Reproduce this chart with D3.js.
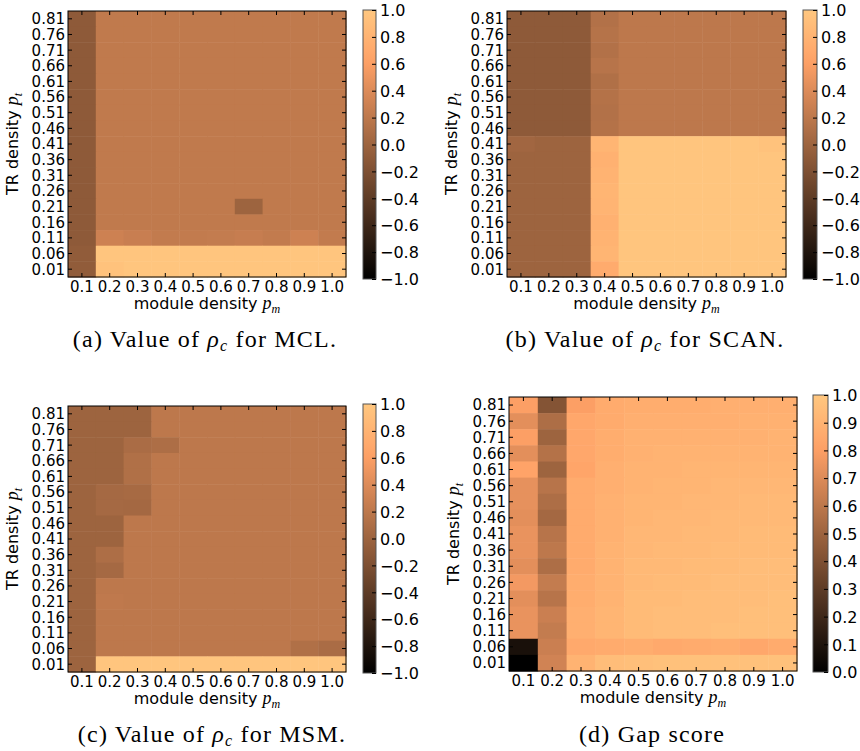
<!DOCTYPE html>
<html>
<head>
<meta charset="utf-8">
<script src="https://cdn.jsdelivr.net/npm/d3@7"></script>
<style>
  body { margin: 0; background: #fff; }
  svg text { font-family: "DejaVu Sans", sans-serif; }
  .cap { font-family: "Liberation Serif", serif; font-size: 24px; letter-spacing: 1.2px; }
</style>
</head>
<body>
<svg id="chart" width="860" height="751"></svg>
<script>

// module density p_m (columns) and TR density p_t (rows, top to bottom)
let xLabels = ["0.1","0.2","0.3","0.4","0.5","0.6","0.7","0.8","0.9","1.0"]
let yLabels = ["0.81","0.76","0.71","0.66","0.61","0.56","0.51","0.46","0.41","0.36","0.31","0.26","0.21","0.16","0.11","0.06","0.01"]

let rhoTicks = ["1.0","0.8","0.6","0.4","0.2","0.0","-0.2","-0.4","-0.6","-0.8","-1.0"]
let gapTicks = ["0.0","0.1","0.2","0.3","0.4","0.5","0.6","0.7","0.8","0.9","1.0"]

let mclValues = [
  [-0.1,0.22,0.22,0.22,0.22,0.22,0.22,0.22,0.22,0.22],
  [-0.1,0.22,0.22,0.22,0.22,0.22,0.22,0.22,0.22,0.22],
  [-0.1,0.22,0.22,0.22,0.22,0.22,0.22,0.22,0.22,0.22],
  [-0.1,0.22,0.22,0.22,0.22,0.22,0.22,0.22,0.22,0.22],
  [-0.1,0.22,0.22,0.22,0.22,0.22,0.22,0.22,0.22,0.22],
  [-0.1,0.22,0.22,0.22,0.22,0.22,0.22,0.22,0.22,0.22],
  [-0.1,0.22,0.22,0.22,0.22,0.22,0.22,0.22,0.22,0.22],
  [-0.1,0.22,0.22,0.22,0.22,0.22,0.22,0.22,0.22,0.22],
  [-0.1,0.22,0.22,0.22,0.22,0.22,0.22,0.22,0.22,0.22],
  [-0.1,0.22,0.22,0.22,0.22,0.22,0.22,0.22,0.22,0.22],
  [-0.1,0.22,0.22,0.22,0.22,0.22,0.22,0.22,0.22,0.22],
  [-0.1,0.22,0.22,0.22,0.22,0.22,0.22,0.22,0.22,0.22],
  [-0.1,0.22,0.22,0.22,0.22,0.22,0.0,0.22,0.22,0.22],
  [-0.1,0.22,0.22,0.22,0.22,0.22,0.22,0.22,0.22,0.22],
  [-0.1,0.3,0.27,0.23,0.23,0.24,0.26,0.23,0.3,0.23],
  [-0.08,0.98,0.98,0.98,0.98,0.98,0.98,0.98,0.98,0.98],
  [-0.08,0.95,0.98,0.98,0.98,0.98,0.98,0.98,0.98,0.98]
]

let scanValues = [
  [-0.1,-0.1,-0.1,0.13,0.2,0.2,0.2,0.2,0.2,0.2],
  [-0.1,-0.1,-0.1,0.15,0.2,0.2,0.2,0.2,0.2,0.2],
  [-0.1,-0.1,-0.1,0.13,0.2,0.2,0.2,0.2,0.2,0.2],
  [-0.1,-0.1,-0.1,0.16,0.2,0.2,0.2,0.2,0.2,0.2],
  [-0.1,-0.1,-0.1,0.12,0.2,0.2,0.2,0.2,0.2,0.2],
  [-0.1,-0.1,-0.1,0.14,0.2,0.2,0.2,0.2,0.2,0.2],
  [-0.1,-0.1,-0.1,0.13,0.2,0.2,0.2,0.2,0.2,0.2],
  [-0.1,-0.1,-0.1,0.14,0.2,0.2,0.2,0.2,0.2,0.2],
  [0.02,0.0,0.0,0.82,0.98,0.98,0.98,0.98,0.98,0.95],
  [0.0,0.0,0.0,0.78,0.98,0.98,0.98,0.98,0.98,0.98],
  [0.0,0.0,0.0,0.8,0.98,0.98,0.98,0.98,0.98,0.98],
  [0.0,0.0,0.0,0.82,0.98,0.98,0.98,0.98,0.98,0.98],
  [0.0,0.0,0.0,0.81,0.98,0.98,0.98,0.98,0.98,0.98],
  [0.0,0.0,0.0,0.78,0.98,0.98,0.98,0.98,0.98,0.98],
  [0.0,0.0,0.0,0.8,0.98,0.98,0.98,0.98,0.98,0.98],
  [0.0,0.0,0.0,0.82,0.98,0.98,0.98,0.98,0.98,0.98],
  [0.0,0.0,0.0,0.72,0.98,0.98,0.98,0.98,0.98,0.98]
]

let msmValues = [
  [0.0,0.0,0.0,0.2,0.2,0.2,0.2,0.2,0.2,0.2],
  [0.0,0.0,0.0,0.2,0.2,0.2,0.2,0.2,0.2,0.2],
  [0.0,0.0,0.08,0.1,0.2,0.2,0.2,0.2,0.2,0.2],
  [0.0,0.0,0.12,0.2,0.2,0.2,0.2,0.2,0.2,0.2],
  [0.0,0.0,0.12,0.2,0.2,0.2,0.2,0.2,0.2,0.2],
  [0.0,0.05,0.06,0.2,0.2,0.2,0.2,0.2,0.2,0.2],
  [0.0,0.05,0.04,0.2,0.2,0.2,0.2,0.2,0.2,0.2],
  [0.0,0.0,0.2,0.2,0.2,0.2,0.2,0.2,0.2,0.2],
  [0.0,0.0,0.2,0.2,0.2,0.2,0.2,0.2,0.2,0.2],
  [0.0,0.1,0.2,0.2,0.2,0.2,0.2,0.2,0.2,0.2],
  [0.0,0.05,0.2,0.2,0.2,0.2,0.2,0.2,0.2,0.2],
  [0.0,0.2,0.2,0.2,0.2,0.2,0.2,0.2,0.2,0.2],
  [0.0,0.21,0.2,0.2,0.2,0.2,0.2,0.2,0.2,0.2],
  [0.0,0.2,0.2,0.2,0.2,0.2,0.2,0.2,0.2,0.2],
  [0.0,0.2,0.2,0.2,0.2,0.2,0.2,0.2,0.2,0.2],
  [0.0,0.2,0.2,0.2,0.2,0.2,0.2,0.2,0.12,0.08],
  [0.0,0.98,0.98,0.98,0.98,0.98,0.98,0.98,0.98,0.98]
]

let gapValues = [
  [0.8,0.42,0.8,0.86,0.87,0.87,0.87,0.88,0.88,0.88],
  [0.72,0.55,0.84,0.86,0.88,0.88,0.88,0.88,0.89,0.89],
  [0.8,0.5,0.84,0.87,0.89,0.89,0.89,0.89,0.89,0.9],
  [0.72,0.57,0.84,0.87,0.89,0.9,0.9,0.9,0.9,0.9],
  [0.82,0.5,0.83,0.88,0.9,0.9,0.91,0.91,0.91,0.91],
  [0.73,0.58,0.86,0.88,0.9,0.91,0.91,0.92,0.92,0.92],
  [0.73,0.55,0.86,0.89,0.91,0.91,0.92,0.92,0.93,0.93],
  [0.72,0.52,0.86,0.89,0.91,0.92,0.92,0.93,0.93,0.93],
  [0.74,0.58,0.86,0.89,0.92,0.92,0.93,0.93,0.94,0.94],
  [0.74,0.6,0.86,0.9,0.92,0.93,0.93,0.94,0.94,0.94],
  [0.72,0.55,0.86,0.9,0.93,0.93,0.94,0.94,0.95,0.95],
  [0.77,0.62,0.87,0.9,0.93,0.94,0.94,0.95,0.95,0.95],
  [0.72,0.58,0.87,0.9,0.94,0.94,0.95,0.95,0.95,0.96],
  [0.74,0.64,0.88,0.91,0.94,0.95,0.95,0.95,0.96,0.96],
  [0.74,0.62,0.88,0.91,0.94,0.95,0.95,0.96,0.96,0.96],
  [0.08,0.64,0.85,0.86,0.87,0.85,0.86,0.87,0.84,0.86],
  [0.0,0.66,0.9,0.95,0.96,0.97,0.97,0.97,0.97,0.97]
]

// matplotlib "copper"
function copper(t) {
  t = Math.max(0, Math.min(1, t))
  return d3.rgb(255 * Math.min(1, t / 0.809524), 255 * 0.7812 * t, 255 * 0.4975 * t)
}

let panels = [
  { values: mclValues, domain: [-1, 1], ticks: rhoTicks, x: 68, y: 11, w: 278, h: 266,
    bar: { x: 363, y: 10, w: 13, h: 269 }, cap: ["(a) Value of ", "ρ", "c", " for MCL."], capX: 205, capY: 347 },
  { values: scanValues, domain: [-1, 1], ticks: rhoTicks, x: 507, y: 11, w: 279, h: 266,
    bar: { x: 803, y: 10, w: 14, h: 269 }, cap: ["(b) Value of ", "ρ", "c", " for SCAN."], capX: 645, capY: 347 },
  { values: msmValues, domain: [-1, 1], ticks: rhoTicks, x: 68, y: 406, w: 278, h: 266,
    bar: { x: 363, y: 404, w: 13, h: 269 }, cap: ["(c) Value of ", "ρ", "c", " for MSM."], capX: 212, capY: 742 },
  { values: gapValues, domain: [0, 1], ticks: gapTicks, x: 509, y: 397, w: 288, h: 274,
    bar: { x: 813, y: 395, w: 15, h: 277 }, cap: ["(d) Gap score"], capX: 652, capY: 742 }
]

let svg = d3.select("#chart")
let defs = svg.append("defs")

panels.forEach(function(p, pi) {
  let g = svg.append("g").attr("transform", "translate(" + p.x + "," + p.y + ")")

  let x = d3.scaleBand().domain(xLabels).range([0, p.w])
  let y = d3.scaleBand().domain(yLabels).range([0, p.h])
  let norm = d3.scaleLinear().domain(p.domain).range([0, 1])

  let cells = []
  p.values.forEach(function(row, ri) {
    row.forEach(function(v, ci) { cells.push({ r: yLabels[ri], c: xLabels[ci], v: v }) })
  })

  g.selectAll("rect.cell")
    .data(cells)
    .enter().append("rect")
    .attr("class", "cell")
    .attr("x", d => x(d.c))
    .attr("y", d => y(d.r))
    .attr("width", x.bandwidth() + 0.5)
    .attr("height", y.bandwidth() + 0.5)
    .attr("fill", d => copper(norm(d.v)))

  let left = g.append("g").call(d3.axisLeft(y).tickSizeInner(-4).tickSizeOuter(0).tickPadding(3))
  let right = g.append("g").attr("transform", "translate(" + p.w + ",0)")
    .call(d3.axisRight(y).tickSizeInner(-4).tickSizeOuter(0).tickFormat(""))
  let bottom = g.append("g").attr("transform", "translate(0," + p.h + ")")
    .call(d3.axisBottom(x).tickSizeInner(-4).tickSizeOuter(0).tickPadding(4))
  let top = g.append("g")
    .call(d3.axisTop(x).tickSizeInner(-4).tickSizeOuter(0).tickFormat(""))

  ;[left, right, bottom, top].forEach(function(a) {
    a.select(".domain").remove()
    a.selectAll("text").attr("font-size", 15).attr("fill", "#000").attr("font-family", "DejaVu Sans")
    a.selectAll("line").attr("stroke", "#000")
  })
  left.selectAll("text").attr("dy", "0.36em")
  bottom.selectAll("text").attr("dy", "0.72em")

  g.append("rect")
    .attr("width", p.w).attr("height", p.h)
    .attr("fill", "none").attr("stroke", "#000").attr("stroke-width", 1)

  // axis titles
  let yt = g.append("text")
    .attr("transform", "translate(" + (-50) + "," + (p.h / 2) + ") rotate(-90)")
    .attr("text-anchor", "middle")
    .attr("font-size", 16)
  yt.append("tspan").text("TR density ")
  yt.append("tspan").text("p").attr("font-family", "Liberation Serif").attr("font-style", "italic").attr("font-size", 18)
  yt.append("tspan").text("t").attr("font-family", "Liberation Serif").attr("font-style", "italic").attr("font-size", 12).attr("dy", 4)

  let xt = g.append("text")
    .attr("x", p.w / 2).attr("y", p.h + 32)
    .attr("text-anchor", "middle")
    .attr("font-size", 16)
  xt.append("tspan").text("module density ")
  xt.append("tspan").text("p").attr("font-family", "Liberation Serif").attr("font-style", "italic").attr("font-size", 18)
  xt.append("tspan").text("m").attr("font-family", "Liberation Serif").attr("font-style", "italic").attr("font-size", 12).attr("dy", 4)

  // colorbar
  let gid = "grad" + pi
  let grad = defs.append("linearGradient").attr("id", gid)
    .attr("x1", 0).attr("y1", 1).attr("x2", 0).attr("y2", 0)
  d3.range(0, 1.0001, 0.05).forEach(function(t) {
    grad.append("stop").attr("offset", t).attr("stop-color", copper(t))
  })
  let cb = svg.append("g").attr("transform", "translate(" + p.bar.x + "," + p.bar.y + ")")
  cb.append("rect").attr("width", p.bar.w).attr("height", p.bar.h)
    .attr("fill", "url(#" + gid + ")").attr("stroke", "#555").attr("stroke-width", 1)
  let cy = d3.scaleLinear().domain(p.domain).range([p.bar.h, 0])
  let cAxis = cb.append("g").attr("transform", "translate(" + p.bar.w + ",0)")
    .call(d3.axisRight(cy).tickValues(p.ticks.map(Number)).tickSizeInner(-4).tickSizeOuter(0).tickPadding(4)
      .tickFormat(d => (d < 0 ? "\u2212" : "") + Math.abs(d).toFixed(1)))
  cAxis.select(".domain").remove()
  cAxis.selectAll("text").attr("font-size", 16).attr("fill", "#000").attr("dy", "0.36em")
  cAxis.selectAll("line").attr("stroke", "#000")

  // caption
  let cap = svg.append("text").attr("class", "cap")
    .attr("x", p.capX).attr("y", p.capY).attr("text-anchor", "middle")
  cap.append("tspan").text(p.cap[0])
  if (p.cap.length > 1) {
    cap.append("tspan").text(p.cap[1]).attr("font-style", "italic")
    cap.append("tspan").text(p.cap[2]).attr("font-style", "italic").attr("font-size", 16).attr("dy", 4)
    cap.append("tspan").text(p.cap[3]).attr("dy", -4)
  }
})

</script>
</body>
</html>
